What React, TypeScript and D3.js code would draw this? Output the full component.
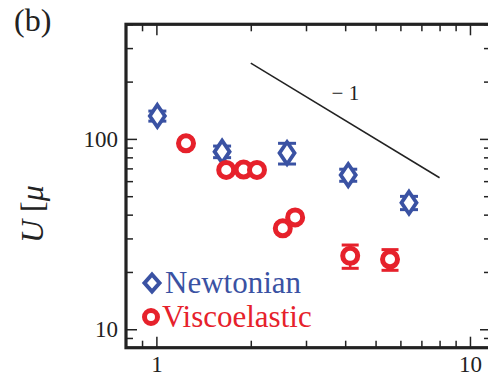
import React, { useEffect, useRef } from 'react';
import * as d3 from 'd3';

interface Pt {
  x: number;
  y: number;
  err: number;
}

// Newtonian (blue diamonds)
const newtX = [1.007, 1.62, 2.61, 4.09, 6.39];
const newtY = [132, 85.7, 84.3, 64.6, 46.2];
const newtErr = [8, 6, 10.5, 4.7, 3.7];

// Viscoelastic (red circles)
const viscX = [1.243, 1.67, 1.897, 2.093, 2.53, 2.77, 4.15, 5.56];
const viscY = [94.8, 68.7, 69, 68.7, 33.9, 38.7, 24.3, 23.3];
const viscErr = [1.5, 1.5, 1.5, 1.5, 1.5, 1.5, 3.4, 2.9];

// slope -1 guide line
const slopeX = [2, 8];
const slopeY = [250, 62.5];
const slopeLabel = '\u2212 1';
const slopeLabelAt = [3.62, 160];

const xMajor = [1, 10];
const xMinor = [0.9, 2, 3, 4, 5, 6, 7, 8, 9];
const yMajor = [10, 100];
const yMinor = [8, 9, 20, 30, 40, 50, 60, 70, 80, 90, 200, 300, 400];

const legendLabels = ['Newtonian', 'Viscoelastic'];

const BLUE = '#3a52a3';
const RED = '#e6212b';
const INK = '#222';

const zip = (xs: number[], ys: number[], es: number[]): Pt[] =>
  xs.map((x, i) => ({ x, y: ys[i], err: es[i] }));

const App: React.FC = () => {
  const svgRef = useRef<SVGSVGElement | null>(null);

  useEffect(() => {
    if (!svgRef.current) return;
    const W = 488;
    const H = 376;
    const left = 126;
    const right = 491;
    const top = 24.3;
    const bottom = 347.7;

    const svg = d3.select(svgRef.current);
    svg.selectAll('*').remove();
    svg.attr('width', W).attr('height', H);

    const x = d3.scaleLog().domain([0.8, 11.67]).range([left, right]);
    const y = d3.scaleLog().domain([8, 400]).range([bottom, top]);

    const font = '"Liberation Serif", "DejaVu Serif", serif';

    // panel letter
    svg.append('text')
      .attr('x', 14)
      .attr('y', 31)
      .attr('font-family', font)
      .attr('font-size', 32)
      .attr('fill', INK)
      .text('(b)');

    // y label (truncated as in the figure)
    const yl = svg.append('text')
      .attr('transform', 'translate(43,243) rotate(-90)')
      .attr('font-family', font)
      .attr('font-size', 32)
      .attr('fill', INK);
    yl.append('tspan').attr('font-style', 'italic').text('U');
    yl.append('tspan').text(' [');
    yl.append('tspan').attr('font-style', 'italic').text('\u03bc');

    // ticks, pointing inward on all four sides
    const axes = svg.append('g');
    const tickAxis = (
      gen: d3.Axis<d3.NumberValue>,
      t: string,
      vals: number[],
      size: number,
      labels: boolean
    ) => {
      const g = axes.append('g')
        .attr('transform', t)
        .call(
          gen.tickValues(vals)
            .tickSize(-size)
            .tickPadding(labels ? 8 : 0)
            .tickFormat(labels ? (d3.format('d') as any) : () => '')
        );
      g.select('.domain').remove();
      g.selectAll('line').attr('stroke', INK).attr('stroke-width', 1.5);
      g.selectAll('text')
        .attr('font-family', font)
        .attr('font-size', 23)
        .attr('stroke', 'none')
        .attr('fill', INK);
      return g;
    };

    tickAxis(d3.axisBottom(x), `translate(0,${bottom})`, xMajor, 11, true);
    tickAxis(d3.axisBottom(x), `translate(0,${bottom})`, xMinor, 7, false);
    tickAxis(d3.axisTop(x), `translate(0,${top})`, xMajor, 11, false);
    tickAxis(d3.axisTop(x), `translate(0,${top})`, xMinor, 7, false);
    tickAxis(d3.axisLeft(y), `translate(${left},0)`, yMajor, 11, true);
    tickAxis(d3.axisLeft(y), `translate(${left},0)`, yMinor, 7, false);
    tickAxis(d3.axisRight(y), `translate(${right},0)`, yMajor, 11, false);
    tickAxis(d3.axisRight(y), `translate(${right},0)`, yMinor, 7, false);

    // frame
    svg.append('rect')
      .attr('x', left)
      .attr('y', top)
      .attr('width', right - left)
      .attr('height', bottom - top)
      .attr('fill', 'none')
      .attr('stroke', INK)
      .attr('stroke-width', 3.2);

    // slope guide
    const line = d3.line<number>()
      .x((_, i) => x(slopeX[i]))
      .y((d) => y(d));
    svg.append('path')
      .datum(slopeY)
      .attr('d', line)
      .attr('fill', 'none')
      .attr('stroke', INK)
      .attr('stroke-width', 1.5);
    svg.append('text')
      .attr('x', x(slopeLabelAt[0]))
      .attr('y', y(slopeLabelAt[1]))
      .attr('font-family', font)
      .attr('font-size', 21)
      .attr('fill', INK)
      .text(slopeLabel);

    const errorBars = (data: Pt[], color: string, capW: number) => {
      const g = svg.append('g').attr('stroke', color);
      data.forEach((d) => {
        const cx = x(d.x);
        const y0 = y(d.y - d.err);
        const y1 = y(d.y + d.err);
        g.append('line').attr('x1', cx).attr('x2', cx).attr('y1', y0).attr('y2', y1).attr('stroke-width', 2.5);
        [y0, y1].forEach((yy) =>
          g.append('line')
            .attr('x1', cx - capW / 2)
            .attr('x2', cx + capW / 2)
            .attr('y1', yy)
            .attr('y2', yy)
            .attr('stroke-width', 3)
        );
      });
    };

    const diamond = (hw: number, hh: number) => `M0,${-hh}L${hw},0L0,${hh}L${-hw},0Z`;

    const newt = zip(newtX, newtY, newtErr);
    const visc = zip(viscX, viscY, viscErr);

    // Newtonian
    errorBars(newt, BLUE, 18);
    svg.append('g')
      .selectAll('path')
      .data(newt)
      .enter()
      .append('path')
      .attr('transform', (d) => `translate(${x(d.x)},${y(d.y)})`)
      .attr('d', diamond(7.5, 11))
      .attr('fill', 'white')
      .attr('stroke', BLUE)
      .attr('stroke-width', 3.8)
      .attr('stroke-linejoin', 'miter');

    // Viscoelastic
    errorBars(visc, RED, 17);
    svg.append('g')
      .selectAll('circle')
      .data(visc)
      .enter()
      .append('circle')
      .attr('cx', (d) => x(d.x))
      .attr('cy', (d) => y(d.y))
      .attr('r', 7.5)
      .attr('fill', 'white')
      .attr('stroke', RED)
      .attr('stroke-width', 5);

    // legend
    const lg = svg.append('g');
    lg.append('path')
      .attr('transform', 'translate(152,283)')
      .attr('d', diamond(7.5, 8.5))
      .attr('fill', 'white')
      .attr('stroke', BLUE)
      .attr('stroke-width', 4);
    lg.append('circle')
      .attr('cx', 151)
      .attr('cy', 317)
      .attr('r', 6.5)
      .attr('fill', 'white')
      .attr('stroke', RED)
      .attr('stroke-width', 5);
    lg.append('text')
      .attr('x', 165)
      .attr('y', 293)
      .attr('font-family', font)
      .attr('font-size', 31)
      .attr('fill', BLUE)
      .text(legendLabels[0]);
    lg.append('text')
      .attr('x', 162)
      .attr('y', 327)
      .attr('font-family', font)
      .attr('font-size', 31)
      .attr('fill', RED)
      .text(legendLabels[1]);
  }, []);

  return (
    <div style={{ position: 'absolute', left: 0, top: 0, width: 488, height: 376, background: 'white' }}>
      <svg ref={svgRef} style={{ display: 'block' }} />
    </div>
  );
};

export default App;
